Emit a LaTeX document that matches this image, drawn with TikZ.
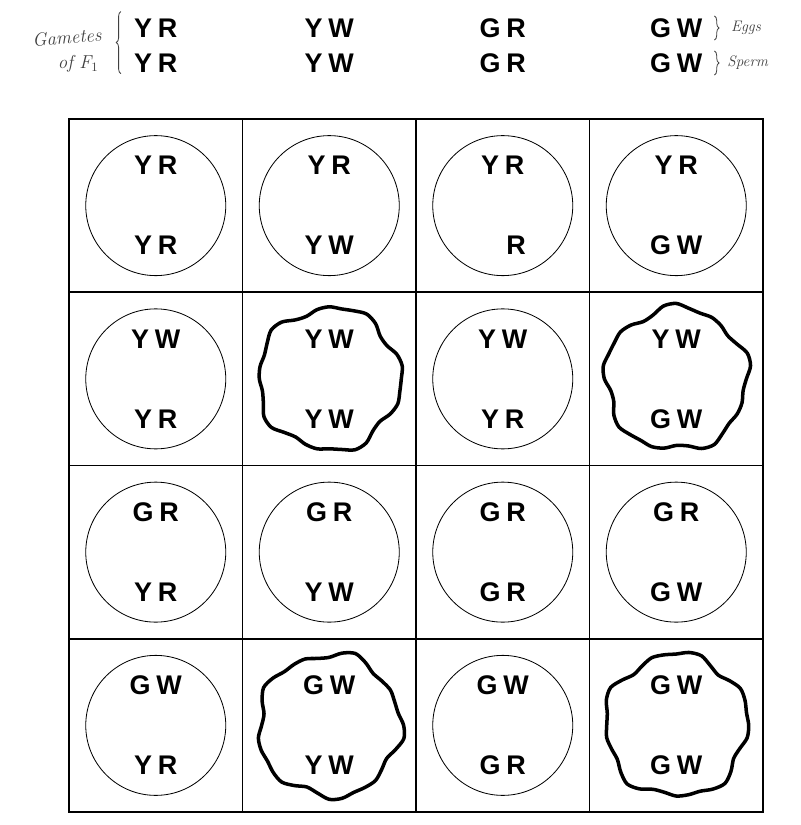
\documentclass[tikz,border=0pt]{standalone}
\usepackage{fontspec}
\setsansfont{Liberation Sans}
\usetikzlibrary{positioning, decorations.pathreplacing}
\newcommand{\gsp}{\hspace{0.22em}}

\begin{document}
\begin{tikzpicture}[x=0.03cm, y=-0.03cm]
    \tikzset{
        gamete/.style={font=\fontsize{23}{26}\selectfont\sffamily\bfseries, inner sep=0pt},
        hand/.style={font=\fontsize{16}{18}\selectfont\itshape, text=black!75, inner sep=0pt},
        handsmall/.style={hand, font=\fontsize{13}{15}\selectfont\itshape},
        gridline/.style={line width=1.3pt},
        ring/.style={circle, minimum size=4.2cm, inner sep=0pt},
        thinring/.style={line width=0.7pt},
        wobbly/.style={line width=3pt, line join=round},
        bracket/.style={decorate, decoration={brace, amplitude=4pt}, line width=0.7pt, black!75}
    }
    \useasboundingbox (0,0) rectangle (800,825);
    % gametes of the F1 along the top
    \foreach \ga/\gb [count=\c] in {Y/R,Y/W,G/R,G/W}{
        \node[gamete] (egghead\c) at ({69+173.5*(\c-0.5)},28) {\ga\gsp\gb};
        \node[gamete] (spermhead\c) at ({69+173.5*(\c-0.5)},63) {\ga\gsp\gb};
    }
    \draw[bracket] ([xshift=-11pt, yshift=-1pt]spermhead1.south west) -- ([xshift=-11pt, yshift=6pt]egghead1.north west);
    \node[hand, rotate=4, left=28pt of egghead1, yshift=-6pt] (gametesword) {Gametes};
    \node[hand, left=30pt of spermhead1, yshift=-1pt] (ofword) {of F$_1$};
    \draw[bracket] ([xshift=10pt, yshift=2pt]egghead4.north east) -- ([xshift=10pt, yshift=-2pt]egghead4.south east);
    \draw[bracket] ([xshift=10pt, yshift=2pt]spermhead4.north east) -- ([xshift=10pt, yshift=-2pt]spermhead4.south east);
    \node[handsmall, right=24pt of egghead4] (eggword) {Eggs};
    \node[handsmall, right=21pt of spermhead4] (spermword) {Sperm};
    % the checkerboard
    \draw[gridline] (69,119) rectangle (763,812);
    \foreach \k in {1,2,3}{
        \draw[gridline] ({69+173.5*\k},119) -- ({69+173.5*\k},812);
        \draw[gridline] (69,{119+173.25*\k}) -- (763,{119+173.25*\k});
    }
    \foreach \ea/\eb [count=\r] in {Y/R,Y/W,G/R,G/W}{
        \foreach \sa/\sb [count=\c] in {Y/R,Y/W,G/R,G/W}{
            \node[ring] (cell\r\c) at ({69+173.5*(\c-0.5)},{119+173.25*(\r-0.5)}) {};
            \ifnum\r\c=13 \def\sa{\phantom{G}}\fi
            \ifnum\r\c=23 \def\sa{Y}\fi
            \node[gamete] (egg\r\c) at ([yshift=1.2cm]cell\r\c) {\ea\gsp\eb};
            \node[gamete] (sperm\r\c) at ([yshift=-1.2cm]cell\r\c) {\sa\gsp\sb};
            \ifodd\r
                \draw[thinring] (cell\r\c) circle[radius=2.1cm];
            \else\ifodd\c
                \draw[thinring] (cell\r\c) circle[radius=2.1cm];
            \else
                \draw[wobbly, shift={(cell\r\c)}] plot[smooth cycle, domain=0:350, samples=36, variable=\t]
                    ({(71+3*sin(5*\t+40*\c)+2.5*cos(9*\t+70*\r))*cos(\t)},
                     {(71+3*sin(5*\t+40*\c)+2.5*cos(9*\t+70*\r))*sin(\t)});
            \fi\fi
        }
    }
\end{tikzpicture}
\end{document}
